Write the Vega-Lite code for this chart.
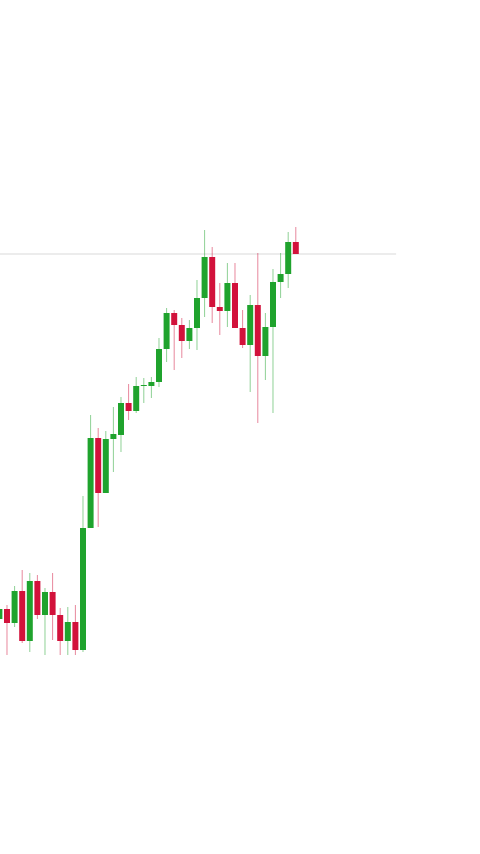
{
  "$schema": "https://vega.github.io/schema/vega-lite/v6.json",
  "width": 480,
  "height": 854,
  "autosize": "none",
  "padding": 0,
  "background": "white",
  "config": {"view": {"stroke": null}},
  "datasets": {
    "candles": [
      {"i": 0, "o": 23.5, "h": 24.9, "l": 23.2, "c": 24.5},
      {"i": 1, "o": 24.5, "h": 24.9, "l": 19.9, "c": 23.1},
      {"i": 2, "o": 23.1, "h": 26.8, "l": 22.7, "c": 26.3},
      {"i": 3, "o": 26.3, "h": 28.4, "l": 21.1, "c": 21.3},
      {"i": 4, "o": 21.3, "h": 28.1, "l": 20.2, "c": 27.3},
      {"i": 5, "o": 27.3, "h": 27.9, "l": 23.5, "c": 23.9},
      {"i": 6, "o": 23.9, "h": 26.6, "l": 19.9, "c": 26.2},
      {"i": 7, "o": 26.2, "h": 28.1, "l": 21.4, "c": 23.9},
      {"i": 8, "o": 23.9, "h": 24.6, "l": 19.9, "c": 21.3},
      {"i": 9, "o": 21.3, "h": 24.7, "l": 19.9, "c": 23.2},
      {"i": 10, "o": 23.2, "h": 24.9, "l": 19.9, "c": 20.4},
      {"i": 11, "o": 20.4, "h": 35.8, "l": 20.2, "c": 32.6},
      {"i": 12, "o": 32.6, "h": 43.9, "l": 32.6, "c": 41.6},
      {"i": 13, "o": 41.6, "h": 42.6, "l": 32.7, "c": 36.1},
      {"i": 14, "o": 36.1, "h": 42.3, "l": 36.1, "c": 41.5},
      {"i": 15, "o": 41.5, "h": 44.7, "l": 38.2, "c": 42.0},
      {"i": 16, "o": 41.9, "h": 45.7, "l": 40.2, "c": 45.1},
      {"i": 17, "o": 45.1, "h": 47.0, "l": 43.4, "c": 44.3},
      {"i": 18, "o": 44.3, "h": 47.7, "l": 44.1, "c": 46.8},
      {"i": 19, "o": 46.8, "h": 47.6, "l": 45.1, "c": 46.9},
      {"i": 20, "o": 46.8, "h": 47.7, "l": 45.6, "c": 47.2},
      {"i": 21, "o": 47.2, "h": 51.6, "l": 46.7, "c": 50.5},
      {"i": 22, "o": 50.5, "h": 54.6, "l": 49.2, "c": 54.1},
      {"i": 23, "o": 54.1, "h": 54.4, "l": 48.4, "c": 52.9},
      {"i": 24, "o": 52.9, "h": 53.6, "l": 49.6, "c": 51.3},
      {"i": 25, "o": 51.3, "h": 53.4, "l": 50.5, "c": 52.6},
      {"i": 26, "o": 52.6, "h": 57.4, "l": 50.4, "c": 55.6},
      {"i": 27, "o": 55.6, "h": 62.4, "l": 53.7, "c": 59.7},
      {"i": 28, "o": 59.7, "h": 60.7, "l": 53.1, "c": 54.7},
      {"i": 29, "o": 54.7, "h": 57.1, "l": 51.9, "c": 54.3},
      {"i": 30, "o": 54.3, "h": 59.1, "l": 52.7, "c": 57.1},
      {"i": 31, "o": 57.1, "h": 59.1, "l": 52.6, "c": 52.6},
      {"i": 32, "o": 52.6, "h": 54.4, "l": 50.6, "c": 50.9},
      {"i": 33, "o": 50.9, "h": 55.9, "l": 46.2, "c": 54.9},
      {"i": 34, "o": 54.9, "h": 60.1, "l": 43.1, "c": 49.8},
      {"i": 35, "o": 49.8, "h": 54.1, "l": 47.4, "c": 52.7},
      {"i": 36, "o": 52.7, "h": 58.5, "l": 44.1, "c": 57.2},
      {"i": 37, "o": 57.2, "h": 60.1, "l": 55.6, "c": 58.0},
      {"i": 38, "o": 58.0, "h": 62.2, "l": 56.6, "c": 61.2},
      {"i": 39, "o": 61.2, "h": 62.7, "l": 60.0, "c": 60.0}
    ],
    "last": [{"p": 60.0, "from": -1, "to": 52.2}]
  },
  "layer": [
    {
      "data": {"name": "last"},
      "mark": {"type": "rule", "color": "#d9d9d9", "strokeWidth": 1, "clip": true},
      "encoding": {
        "x": {"field": "from", "type": "quantitative", "scale": {"domain": [0.079, 63.237], "nice": false, "zero": false, "padding": 0}, "axis": null},
        "x2": {"field": "to"},
        "y": {"field": "p", "type": "quantitative", "scale": {"domain": [0, 85.4], "nice": false, "zero": false, "padding": 0}, "axis": null}
      }
    },
    {
      "data": {"name": "candles"},
      "transform": [{"calculate": "datum.c >= datum.o ? 'up' : 'down'", "as": "dir"}],
      "mark": {"type": "rule", "strokeWidth": 1, "opacity": 0.5, "clip": true},
      "encoding": {
        "x": {"field": "i", "type": "quantitative", "scale": {"domain": [0.079, 63.237], "nice": false, "zero": false, "padding": 0}, "axis": null},
        "y": {"field": "l", "type": "quantitative", "scale": {"domain": [0, 85.4], "nice": false, "zero": false, "padding": 0}, "axis": null},
        "y2": {"field": "h"},
        "color": {"field": "dir", "type": "nominal", "scale": {"domain": ["up", "down"], "range": ["#1fa32d", "#d2123b"]}, "legend": null}
      }
    },
    {
      "data": {"name": "candles"},
      "transform": [{"calculate": "datum.c >= datum.o ? 'up' : 'down'", "as": "dir"}],
      "mark": {"type": "bar", "width": 6, "clip": true},
      "encoding": {
        "x": {"field": "i", "type": "quantitative", "scale": {"domain": [0.079, 63.237], "nice": false, "zero": false, "padding": 0}, "axis": null},
        "y": {"field": "o", "type": "quantitative", "scale": {"domain": [0, 85.4], "nice": false, "zero": false, "padding": 0}, "axis": null},
        "y2": {"field": "c"},
        "color": {"field": "dir", "type": "nominal", "scale": {"domain": ["up", "down"], "range": ["#1fa32d", "#d2123b"]}, "legend": null}
      }
    }
  ]
}
